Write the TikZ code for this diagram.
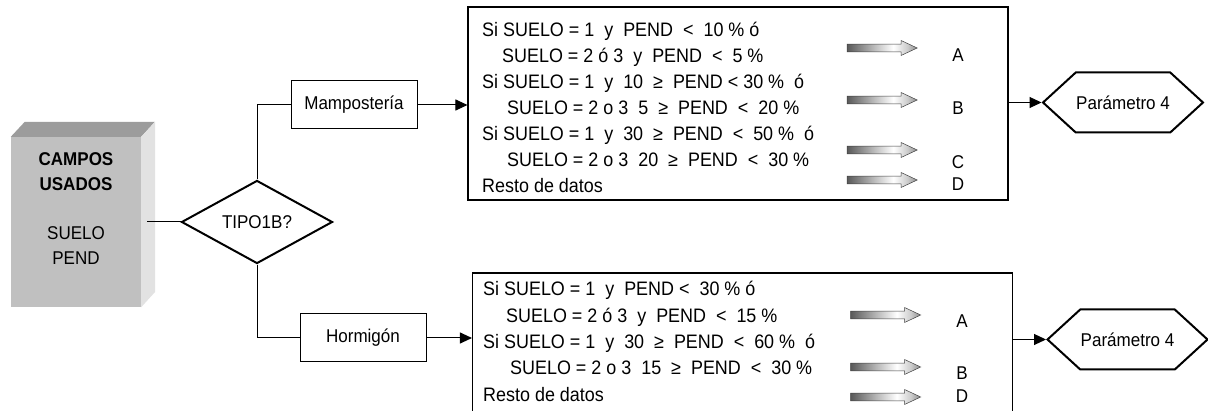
\documentclass[tikz,border=0pt]{standalone}
\usepackage{fontspec}
\setmainfont{Liberation Sans}[FakeStretch=0.92]
\usetikzlibrary{shapes.geometric,shapes.symbols,shapes.arrows,arrows.meta}
\definecolor{caraF}{HTML}{C0C0C0}
\definecolor{caraT}{HTML}{9C9C9C}
\definecolor{caraL}{HTML}{E2E2E2}
\pgfdeclarehorizontalshading{sombraflecha}{100bp}{color(0bp)=(black!65); color(25bp)=(black!65);
  color(45bp)=(black!25); color(58bp)=(white); color(68bp)=(black!20); color(75bp)=(black!45); color(100bp)=(black!45)}
\tikzset{
  every node/.style={font=\fontsize{18.5}{25}\selectfont},
  regla/.style={font=\fontsize{19.5}{26}\selectfont,inner sep=0pt,anchor=base west},
  rotulo/.style={draw,line width=1pt,minimum width=126pt,minimum height=48pt,inner sep=0pt},
  decision/.style={diamond,draw,line width=2pt,minimum width=151pt,minimum height=76pt,inner sep=0pt},
  parametro/.style={signal,signal to=east and west,draw,line width=2pt,minimum width=160pt,minimum height=60pt,signal pointer angle=85,inner sep=0pt},
  reglas/.style={draw,line width=1.1pt,minimum width=540pt,minimum height=193pt,inner sep=0pt},
  flechagris/.style={single arrow,draw=black!75,line width=0.5pt,minimum height=70pt,minimum width=15pt,inner sep=3.5pt,
    single arrow head extend=3.5pt,single arrow tip angle=50,shading=sombraflecha},
  conector/.style={line width=1pt},
  flecha/.style={conector,-{Triangle[length=12pt,width=11pt]}}
}
\begin{document}
\begin{tikzpicture}[x=1pt,y=-1pt]
  \path[use as bounding box] (0,0) rectangle (1208,411);
  \clip (0,0) rectangle (1208,411);
  \fill[white] (0,0) rectangle (1208,411);

  % campos usados
  \node[fill=caraF,minimum width=130pt,minimum height=170pt,inner sep=0pt] (campos) at (76,222) {};
  \fill[caraT] (campos.north west) -- ++(14,-15) -- ++(130,0) -- (campos.north east) -- cycle;
  \fill[caraL] (campos.north east) -- ++(14,-15) -- ++(0,170) -- (campos.south east) -- cycle;
  \node[align=center,inner sep=0pt] (camposTxt) at ([yshift=13pt]campos.center) {\textbf{CAMPOS}\\\textbf{USADOS}\\[24pt]SUELO\\PEND};

  \node[decision] (tipo) at (257,222) {TIPO1B?};
  \node[rotulo] (mampo) at (354,105) {Mampostería};
  \node[rotulo] (hormi) at (363,338) {Hormigón};

  \node[reglas] (reglasM) at (738,103.5) {};
  \node[reglas] (reglasH) at (742.5,369.5) {};

  \node[parametro] (param1) at (1123,102.5) {Parámetro 4};
  \node[parametro] (param2) at (1127.5,339.5) {Parámetro 4};

  \foreach \dx/\y/\t [count=\i] in {
      0/36.5/{Si SUELO = 1~ y~ PEND~ <~ 10 \% ó},
      20/62.5/{SUELO = 2 ó 3~ y~ PEND~ <~ 5 \%},
      0/88.5/{Si SUELO = 1~ y~ 10~ ≥~ PEND < 30 \%~ ó},
      25/114.5/{SUELO = 2 o 3~ 5~ ≥~ PEND~ <~ 20 \%},
      0/140.5/{Si SUELO = 1~ y~ 30~ ≥~ PEND~ <~ 50 \%~ ó},
      25/166.5/{SUELO = 2 o 3~ 20~ ≥~ PEND~ <~ 30 \%},
      0/192.5/{Resto de datos}}
    \node[regla] (m\i) at (482+\dx,\y) {\t};
  \foreach \dx/\y/\t [count=\i] in {
      0/296/{Si SUELO = 1~ y~ PEND <~ 30 \% ó},
      23/322.3/{SUELO = 2 ó 3~ y~ PEND~ <~ 15 \%},
      0/348.6/{Si SUELO = 1~ y~ 30~ ≥~ PEND~ <~ 60 \%~ ó},
      27/374.9/{SUELO = 2 o 3~ 15~ ≥~ PEND~ <~ 30 \%},
      0/401.2/{Resto de datos}}
    \node[regla] (h\i) at (483+\dx,\y) {\t};

  \node[flechagris] (fa1) at (878,48) {};
  \node[flechagris] (fa2) at (878,100) {};
  \node[flechagris] (fa3) at (878,150) {};
  \node[flechagris] (fa4) at (878,180) {};
  \node (la1) at (958,55.5) {A};
  \node (la2) at (958,108.5) {B};
  \node (la3) at (958,162) {C};
  \node (la4) at (958,184) {D};

  \node[flechagris] (fb1) at (881.5,315) {};
  \node[flechagris] (fb2) at (881.5,367) {};
  \node[flechagris] (fb3) at (881.5,397) {};
  \node (lb1) at (962,321) {A};
  \node (lb2) at (962,373) {B};
  \node (lb3) at (962,396) {D};

  \draw[conector] ([xshift=6pt]campos.east) -- (tipo.west);
  \draw[conector] (tipo.north) |- (mampo.west);
  \draw[conector] (tipo.south) |- (hormi.west);
  \draw[flecha] (mampo.east) -- (mampo.east -| reglasM.west);
  \draw[flecha] (hormi.east) -- (hormi.east -| reglasH.west);
  \draw[flecha] (reglasM.east |- param1.west) -- (param1.west);
  \draw[flecha] (reglasH.east |- param2.west) -- (param2.west);
\end{tikzpicture}
\end{document}
